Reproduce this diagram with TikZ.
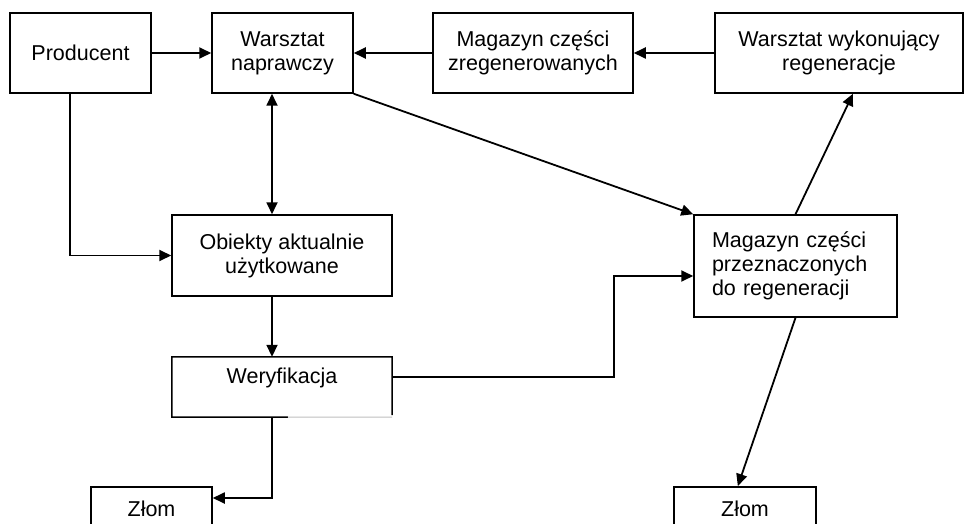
\documentclass[tikz,border=0pt]{standalone}
\usepackage{fontspec}
\setmainfont{Liberation Sans}
\usetikzlibrary{arrows.meta,calc}
\begin{document}
\begin{tikzpicture}[x=1pt,y=-1pt,
  box/.style={draw,line width=1.5pt,inner sep=0pt,align=center,
    font=\fontsize{21.5}{24}\selectfont},
  txt/.style={inner sep=0pt,align=center,font=\fontsize{21.5}{24}\selectfont},
  conn/.style={line width=1.8pt,-{Triangle[length=12pt,width=11pt]}},
  both/.style={line width=1.8pt,{Triangle[length=12pt,width=11pt]}-{Triangle[length=12pt,width=11pt]}}]
\useasboundingbox (0,0) rectangle (971,524);
\clip (0,0) rectangle (971,524);
\fill[white] (0,0) rectangle (971,524);

% top row
\node[box,minimum width=141pt,minimum height=80pt] (pr) at (80.5,53) {Producent};
\node[box,minimum width=141pt,minimum height=80pt] (wn) at (282.5,53) {Warsztat\\naprawczy};
\node[box,minimum width=200pt,minimum height=80pt] (mz) at (533,53) {Magazyn części\\zregenerowanych};
\node[box,minimum width=248pt,minimum height=80pt] (ww) at (839,53) {Warsztat wykonujący\\regeneracje};

% middle
\node[box,minimum width=220pt,minimum height=81pt] (ob) at (282,255.5) {Obiekty aktualnie\\użytkowane};
\node[box,align=left,text width=167pt,inner xsep=18pt,minimum height=102pt] (mp) at (795.5,266)
  {Magazyn części\\przeznaczonych\\do regeneracji};

% verification box, its lower right edge drawn faint
\node[inner sep=0pt,minimum width=220pt,minimum height=60pt] (wer) at (282,387) {};
\node[txt] (wertxt) at (282,378) {Weryfikacja};
\draw[line width=1.5pt] ($(wer.south west)!0.527!(wer.south east)$) -- (wer.south west)
  -- (wer.north west) -- (wer.north east) -- ([yshift=2pt]wer.south east);
\draw[line width=1pt,black!25] ($(wer.south west)!0.527!(wer.south east)$) -- (wer.south east);

% scrap boxes
\node[box,anchor=north,minimum width=121pt,minimum height=60pt] (zl) at (151.5,486) {};
\node[txt] (zltxt) at (151.5,509) {Złom};
\node[box,anchor=north,minimum width=142pt,minimum height=60pt] (zr) at (745,486) {};
\node[txt] (zrtxt) at (745,509) {Złom};

% helper coordinates
\coordinate (vx) at (272,0);
\coordinate (jog) at (614,0);
\coordinate (wout) at ([yshift=10pt]wer.east);
\coordinate (min) at ([yshift=-10pt]mp.west);
\coordinate (zin) at ([yshift=-12pt]zl.north east);
\coordinate (pdown) at ([xshift=-10.5pt]pr.south);

% connectors
\draw[conn] (pr.east) -- (wn.west);
\draw[conn] (mz.west) -- (wn.east);
\draw[conn] (ww.west) -- (mz.east);
\draw[both] (wn.south -| vx) -- (ob.north -| vx);
\draw[conn] (pdown) |- (ob.west);
\draw[conn] (ob.south -| vx) -- (wer.north -| vx);
\draw[conn] (wout) -- (wout -| jog) |- (min);
\draw[conn] (wn.south east) -- (mp.north west);
\draw[conn] (mp.north) -- ($(ww.south west)!0.556!(ww.south east)$);
\draw[conn] (mp.south) -- ($(zr.north west)!0.45!(zr.north east)$);
\draw[conn] (wer.south -| vx) |- (zin);
\end{tikzpicture}
\end{document}
